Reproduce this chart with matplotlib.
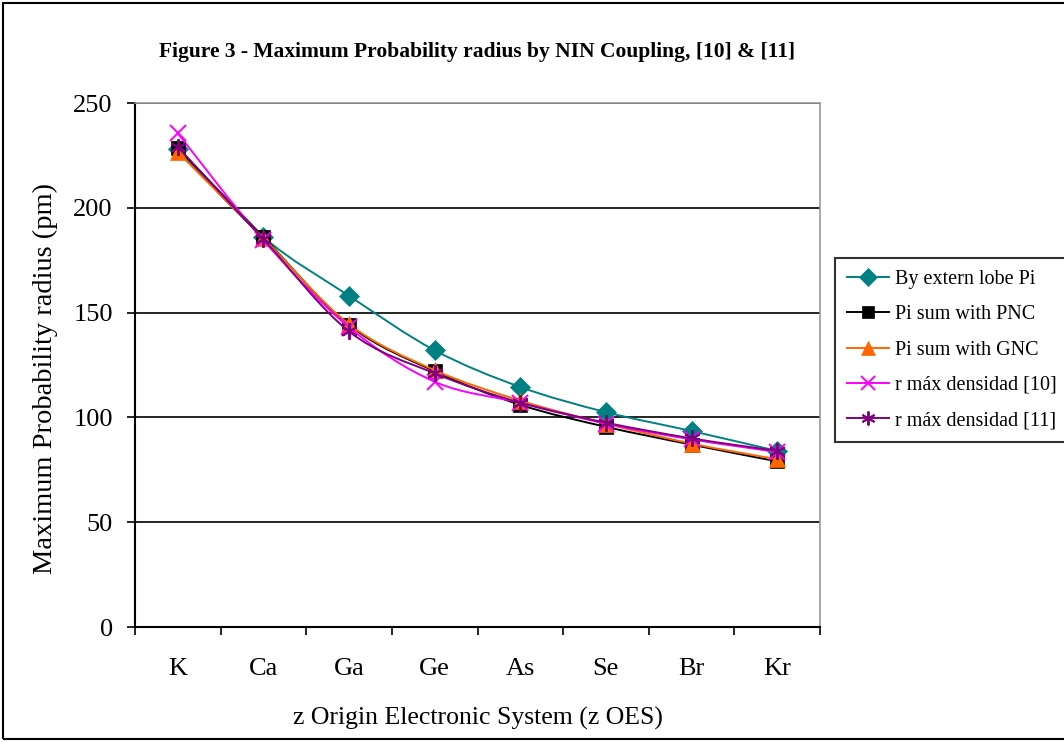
import matplotlib
matplotlib.use('Agg')
import matplotlib.pyplot as plt
import numpy as np
from matplotlib.path import Path
from matplotlib.patches import PathPatch, Rectangle

# Data
elements = ['K', 'Ca', 'Ga', 'Ge', 'As', 'Se', 'Br', 'Kr']
extern_lobe = [228, 186, 158, 132, 114.5, 102.5, 93.5, 84]
pnc_sum = [228.5, 186, 144, 122, 106, 95.5, 87, 79]
gnc_sum = [226.5, 185.5, 144.5, 122.5, 108, 97, 87.5, 80]
r_max_10 = [235.5, 184.5, 143, 117, 107, 97, 89.5, 83.5]
r_max_11 = [229, 185, 141, 121, 107, 97.5, 90, 84]

series = [
    ('By extern lobe Pi', extern_lobe, '#008080', 'D', 10.5),
    ('Pi sum with PNC', pnc_sum, 'black', 's', 10.5),
    ('Pi sum with GNC', gnc_sum, '#FF6600', '^', 11),
    ('r máx densidad [10]', r_max_10, '#FF00FF', 'x', 12),
    ('r máx densidad [11]', r_max_11, '#800080', (6, 2, 0), 12),
]
leg_ms = [9, 8.5, 9.5, 10, 10]

plt.rcParams['font.family'] = ['Liberation Serif', 'DejaVu Serif']

fig = plt.figure(figsize=(10.64, 7.42), dpi=100)
ax = fig.add_axes([135 / 1064, 1 - 627 / 742, 685 / 1064, 524 / 742])


def smooth_path(xs, ys):
    # Excel-like smoothed line: cubic Bezier through the points
    xs = np.asarray(xs, float)
    ys = np.asarray(ys, float)
    n = len(xs)
    verts = [(xs[0], ys[0])]
    codes = [Path.MOVETO]
    for i in range(n - 1):
        i0 = max(i - 1, 0)
        i3 = min(i + 2, n - 1)
        c1 = (xs[i] + (xs[i + 1] - xs[i0]) / 6, ys[i] + (ys[i + 1] - ys[i0]) / 6)
        c2 = (xs[i + 1] - (xs[i3] - xs[i]) / 6, ys[i + 1] - (ys[i3] - ys[i]) / 6)
        verts += [c1, c2, (xs[i + 1], ys[i + 1])]
        codes += [Path.CURVE4] * 3
    return Path(verts, codes)


x = np.arange(len(elements))
handles = []
for z, ((name, vals, col, mk, ms), lms) in enumerate(zip(series, leg_ms)):
    ax.add_patch(PathPatch(smooth_path(x, vals), facecolor='none', edgecolor=col,
                           lw=1.4, zorder=3 + z))
    mew = 1.4 if mk == 'x' or isinstance(mk, tuple) else 0.5
    ax.plot(x, vals, linestyle='none', marker=mk, ms=ms, color=col,
            markeredgecolor=col, mew=mew, zorder=3 + z)
    h, = ax.plot([], [], color=col, lw=1.4, marker=mk, ms=lms, mew=mew,
                 markeredgecolor=col, label=name)
    handles.append(h)

ax.set_xlim(-0.5, len(elements) - 0.5)
ax.set_ylim(0, 250)
ax.set_yticks(np.arange(0, 251, 50))
ax.set_xticks(x)
ax.set_xticklabels(elements)
ax.set_xticks(np.arange(-0.5, len(elements), 1), minor=True)
ax.tick_params(axis='x', which='major', length=0, pad=22, labelsize=19)
ax.tick_params(axis='x', which='minor', length=6, width=1.2, direction='out')
ax.tick_params(axis='y', length=6, width=1.2, direction='out', labelsize=19, pad=10)
ax.grid(axis='y', color='black', lw=1.2)
ax.set_axisbelow(True)
for s in ['top', 'right']:
    ax.spines[s].set_color('#999999')
    ax.spines[s].set_linewidth(1.2)
for s in ['left', 'bottom']:
    ax.spines[s].set_linewidth(1.5)

ax.set_xlabel('z Origin Electronic System (z OES)', fontsize=18.5, va='center')
ax.xaxis.set_label_coords(0.5, (627 - 718) / 524)
ax.set_ylabel('Maximum Probability radius (pm)', fontsize=20.5, va='center')
ax.yaxis.set_label_coords((45 - 135) / 685, (627 - 378) / 524)
fig.text((135 + 820) / 2 / 1064, 1 - 52 / 742,
         'Figure 3 - Maximum Probability radius by NIN Coupling, [10] & [11]',
         ha='center', va='center', fontsize=15.5, fontweight='bold')

leg = fig.legend(handles=handles, loc='upper left',
                 bbox_to_anchor=(835 / 1064, 1 - 258 / 742),
                 fontsize=14.5, frameon=True, fancybox=False, edgecolor='black',
                 handlelength=2.1, handletextpad=0.3, labelspacing=0.8,
                 borderpad=0.6, borderaxespad=0)
leg.get_frame().set_linewidth(1.5)

fig.add_artist(Rectangle((3 / 1064, 3 / 742), 1.2, 1 - 6 / 742,
                         transform=fig.transFigure, fill=False,
                         edgecolor='black', lw=1.5))

fig.savefig('out.png', dpi=100)
